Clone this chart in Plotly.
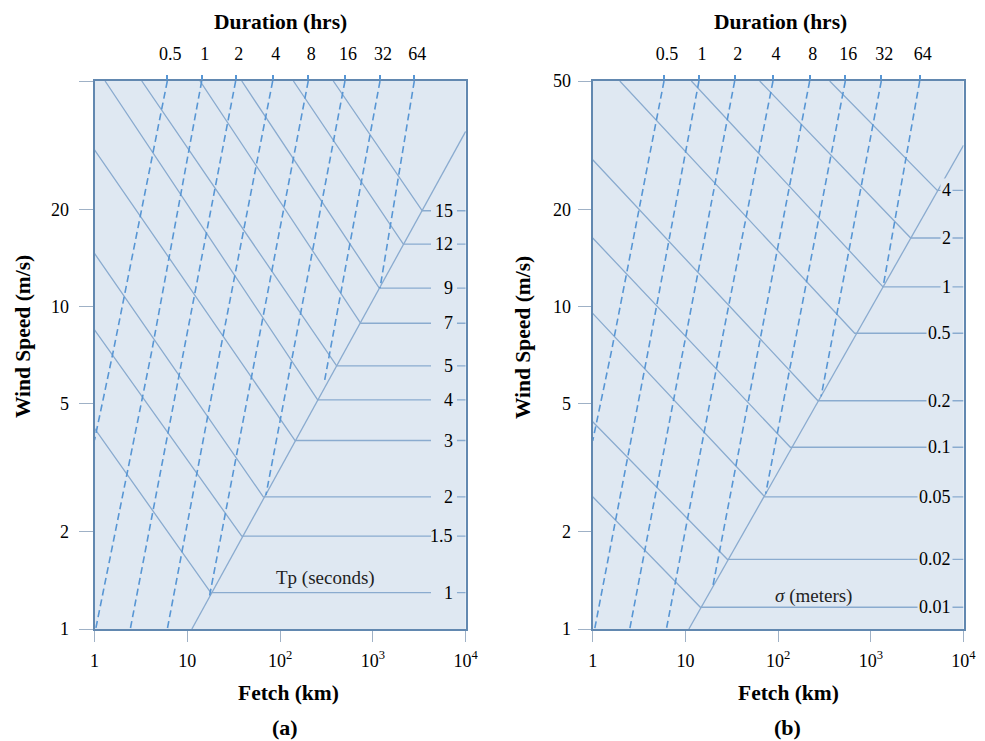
import math
import plotly.graph_objects as go

# ---------------- data ----------------
fetch_ticks = [1, 10, 100, 1000, 10000]
fetch_ticktext = ["1", "10", "10<sup>2</sup>", "10<sup>3</sup>", "10<sup>4</sup>"]
wind_ticks = [1, 2, 5, 10, 20, 50]
wind_ticktext_a = ["1", "2", "5", "10", "20", ""]
wind_ticktext_b = ["1", "2", "5", "10", "20", "50"]
dur_labels = ["0.5", "1", "2", "4", "8", "16", "32", "64"]

# panel (a): peak period Tp (s)
tp_labels = ["15", "12", "9", "7", "5", "4", "3", "2", "1.5", "1"]
tp_wind = [19.8, 15.6, 11.4, 8.87, 6.54, 5.13, 3.84, 2.57, 1.94, 1.296]
tp_corner_fetch = [3405, 2127, 1172, 739, 407, 254, 145, 65.9, 38.6, 17.9]
tp_start_fetch = [374, 139, 38.6, 13.7, 3.23, 1.30, 1, 1, 1, 1]
tp_start_wind = [50, 50, 50, 50, 50, 50, 30.6, 14.6, 8.46, 4.19]
limit_a_fetch = [11.2, 10000]
limit_a_wind = [1, 34.9]

# panel (a): duration lines (hrs)
dur_a_fetch = [[6.09, 1.59, 1.0], [14.3, 4.13, 1.03], [33.2, 9.06, 2.43], [83.2, 22.5, 6.09],
               [201, 56.0, 17.4], [500, 139, 70.3], [1193, 345, 297], [2793, 1193]]
dur_a_wind = [[50, 7.24, 3.85], [50, 7.24, 1.0], [50, 7.24, 1.0], [50, 7.24, 1.0],
              [50, 7.24, 1.27], [50, 7.24, 2.60], [50, 7.24, 5.75], [50, 11.4]]

# panel (b): sigma (m)
sig_labels = ["4", "2", "1", "0.5", "0.2", "0.1", "0.05", "0.02", "0.01"]
sig_wind = [22.9, 16.3, 11.5, 8.26, 5.10, 3.66, 2.57, 1.645, 1.168]
sig_corner_fetch = [5215, 2694, 1354, 670, 269, 135.5, 71.7, 28.3, 14.5]
sig_start_fetch = [360, 63.3, 11.6, 1.96, 1, 1, 1, 1, 1]
sig_start_wind = [50, 50, 50, 50, 28.5, 16.3, 9.52, 4.39, 2.57]
limit_b_fetch = [10.9, 10000]
limit_b_wind = [1, 31.6]

# panel (b): duration lines (hrs)
dur_b_fetch = [[5.88, 1.59, 1.0], [14.0, 3.95, 1.05], [34.0, 9.42, 2.51], [88.1, 23.4, 6.24],
               [219, 60.7, 19.8], [531, 145, 73.5], [1298, 360, 291], [3368, 1371]]
dur_b_wind = [[50, 7.24, 3.83], [50, 7.24, 1.0], [50, 7.24, 1.0], [50, 7.24, 1.0],
              [50, 7.24, 1.36], [50, 7.24, 2.63], [50, 7.24, 5.26], [50, 11.7]]

# ---------------- style / layout constants ----------------
PAGE_W, PAGE_H = 985, 741
OFF = 8                      # default page body margin of the html page
W, H = PAGE_W - OFF, PAGE_H - OFF
FONT = "Liberation Serif"
FRAME = "#6288b0"
BG = "#dfe8f2"
SOLID = "#8aabcf"
DASHC = "#5896d4"
TICKC = "#9fb1c6"
FMAX = 10000
HLINE_END_A = 4227      # where horizontal Tp lines stop (fetch)
RTICK_START_A = 8054    # start of small right-edge tick (fetch)
LABEL_X_A = 7670        # right edge of Tp labels (fetch)
LABEL_X_B = 7710        # right edge of sigma labels (fetch)
TICK_FS = 18
TITLE_FS = 21.5


def fx(px):   # page pixel -> paper x
    return (px - OFF) / W


def fy(py):   # page pixel -> paper y
    return 1 - (py - OFF) / H


fig = go.Figure()


def solid(x, y, xa, ya):
    fig.add_trace(go.Scatter(x=x, y=y, mode="lines", xaxis=xa, yaxis=ya,
                             line=dict(color=SOLID, width=1.3),
                             hoverinfo="skip", showlegend=False))


def dashed(x, y, xa, ya):
    fig.add_trace(go.Scatter(x=x, y=y, mode="lines", xaxis=xa, yaxis=ya,
                             line=dict(color=DASHC, width=1.6, dash="7px,4px"),
                             hoverinfo="skip", showlegend=False))


# panel (a)
solid(limit_a_fetch, limit_a_wind, "x", "y")
for sF, sU, cF, U in zip(tp_start_fetch, tp_start_wind, tp_corner_fetch, tp_wind):
    solid([sF, cF, HLINE_END_A, None, RTICK_START_A, FMAX],
          [sU, U, U, None, U, U], "x", "y")
for fxs, wys in zip(dur_a_fetch, dur_a_wind):
    dashed(fxs, wys, "x3", "y")

# panel (b)
solid(limit_b_fetch, limit_b_wind, "x2", "y2")
for sF, sU, cF, U in zip(sig_start_fetch, sig_start_wind, sig_corner_fetch, sig_wind):
    solid([sF, cF, FMAX], [sU, U, U], "x2", "y2")
for fxs, wys in zip(dur_b_fetch, dur_b_wind):
    dashed(fxs, wys, "x4", "y2")

annotations = []
for lab, U in zip(tp_labels, tp_wind):
    annotations.append(dict(x=math.log10(LABEL_X_A), y=math.log10(U), xref="x", yref="y",
                            text=lab, showarrow=False, xanchor="right", yanchor="middle",
                            font=dict(family=FONT, size=TICK_FS, color="black")))
for lab, U in zip(sig_labels, sig_wind):
    annotations.append(dict(x=math.log10(LABEL_X_B), y=math.log10(U), xref="x2", yref="y2",
                            text=lab, showarrow=False, xanchor="right", yanchor="middle",
                            bgcolor=BG, borderpad=1,
                            font=dict(family=FONT, size=TICK_FS, color="black")))

annotations.append(dict(x=math.log10(305), y=math.log10(1.44), xref="x", yref="y",
                        text="Tp (seconds)", showarrow=False,
                        font=dict(family=FONT, size=19, color="#222")))
annotations.append(dict(x=math.log10(238), y=math.log10(1.27), xref="x2", yref="y2",
                        text="<i>σ</i> (meters)", showarrow=False,
                        font=dict(family=FONT, size=19, color="#222")))


def paper_text(px, py, text, size, angle=0):
    annotations.append(dict(x=fx(px), y=fy(py), xref="paper", yref="paper",
                            text=text, showarrow=False, textangle=angle,
                            xanchor="center", yanchor="middle",
                            font=dict(family=FONT, size=size, color="black")))


paper_text(280, 22, "<b>Duration (hrs)</b>", TITLE_FS)
paper_text(780, 22, "<b>Duration (hrs)</b>", TITLE_FS)
paper_text(288, 693, "<b>Fetch (km)</b>", TITLE_FS)
paper_text(788, 693, "<b>Fetch (km)</b>", TITLE_FS)
paper_text(285, 727, "<b>(a)</b>", 22)
paper_text(787, 727, "<b>(b)</b>", 22)
paper_text(23, 337, "<b>Wind Speed (m/s)</b>", TITLE_FS, -90)
paper_text(523, 338, "<b>Wind Speed (m/s)</b>", TITLE_FS, -90)

tickfont = dict(family=FONT, size=TICK_FS, color="black")


def xbottom(domain, anchor):
    return dict(domain=domain, anchor=anchor, type="log", range=[0, 4], automargin=False,
                showline=True, mirror=True, linecolor=FRAME, linewidth=2,
                ticks="outside", ticklen=11, tickcolor=TICKC, tickwidth=1.2,
                tickvals=fetch_ticks, ticktext=fetch_ticktext, tickfont=tickfont,
                ticklabelstandoff=3, showgrid=False, zeroline=False)


def yleft(domain, anchor, ticktext, ticklen, standoff):
    return dict(domain=domain, anchor=anchor, type="log", range=[0, math.log10(50)],
                automargin=False,
                showline=True, mirror=True, linecolor=FRAME, linewidth=2,
                ticks="outside", ticklen=ticklen, tickcolor=TICKC, tickwidth=1.2,
                tickvals=wind_ticks, ticktext=ticktext, tickfont=tickfont,
                ticklabelstandoff=standoff, showgrid=False, zeroline=False)


def xtop(over, anchor, dur_fetch):
    return dict(overlaying=over, anchor=anchor, side="top", type="log", range=[0, 4],
                automargin=False,
                showline=False, ticks="outside", ticklen=5, tickcolor=DASHC, tickwidth=1.5,
                tickvals=[f[0] for f in dur_fetch], ticktext=dur_labels,
                tickfont=dict(family=FONT, size=TICK_FS, color="black"), ticklabelshift=3,
                ticklabelstandoff=8, showgrid=False, zeroline=False)


ydom = [fy(629), fy(81)]
fig.update_layout(
    width=W, height=H,
    margin=dict(l=0, r=0, t=0, b=0, pad=0, autoexpand=False),
    paper_bgcolor="white", plot_bgcolor=BG,
    xaxis=xbottom([fx(94.5), fx(465.7)], "y"),
    yaxis=yleft(ydom, "x", wind_ticktext_a, 14, 6),
    xaxis2=xbottom([fx(592.7), fx(963.5)], "y2"),
    yaxis2=yleft(ydom, "x2", wind_ticktext_b, 13, 3),
    xaxis3=xtop("x", "y", dur_a_fetch),
    xaxis4=xtop("x2", "y2", dur_b_fetch),
    annotations=annotations,
    showlegend=False,
)

fig.write_html("out.html", config={"displayModeBar": False})
